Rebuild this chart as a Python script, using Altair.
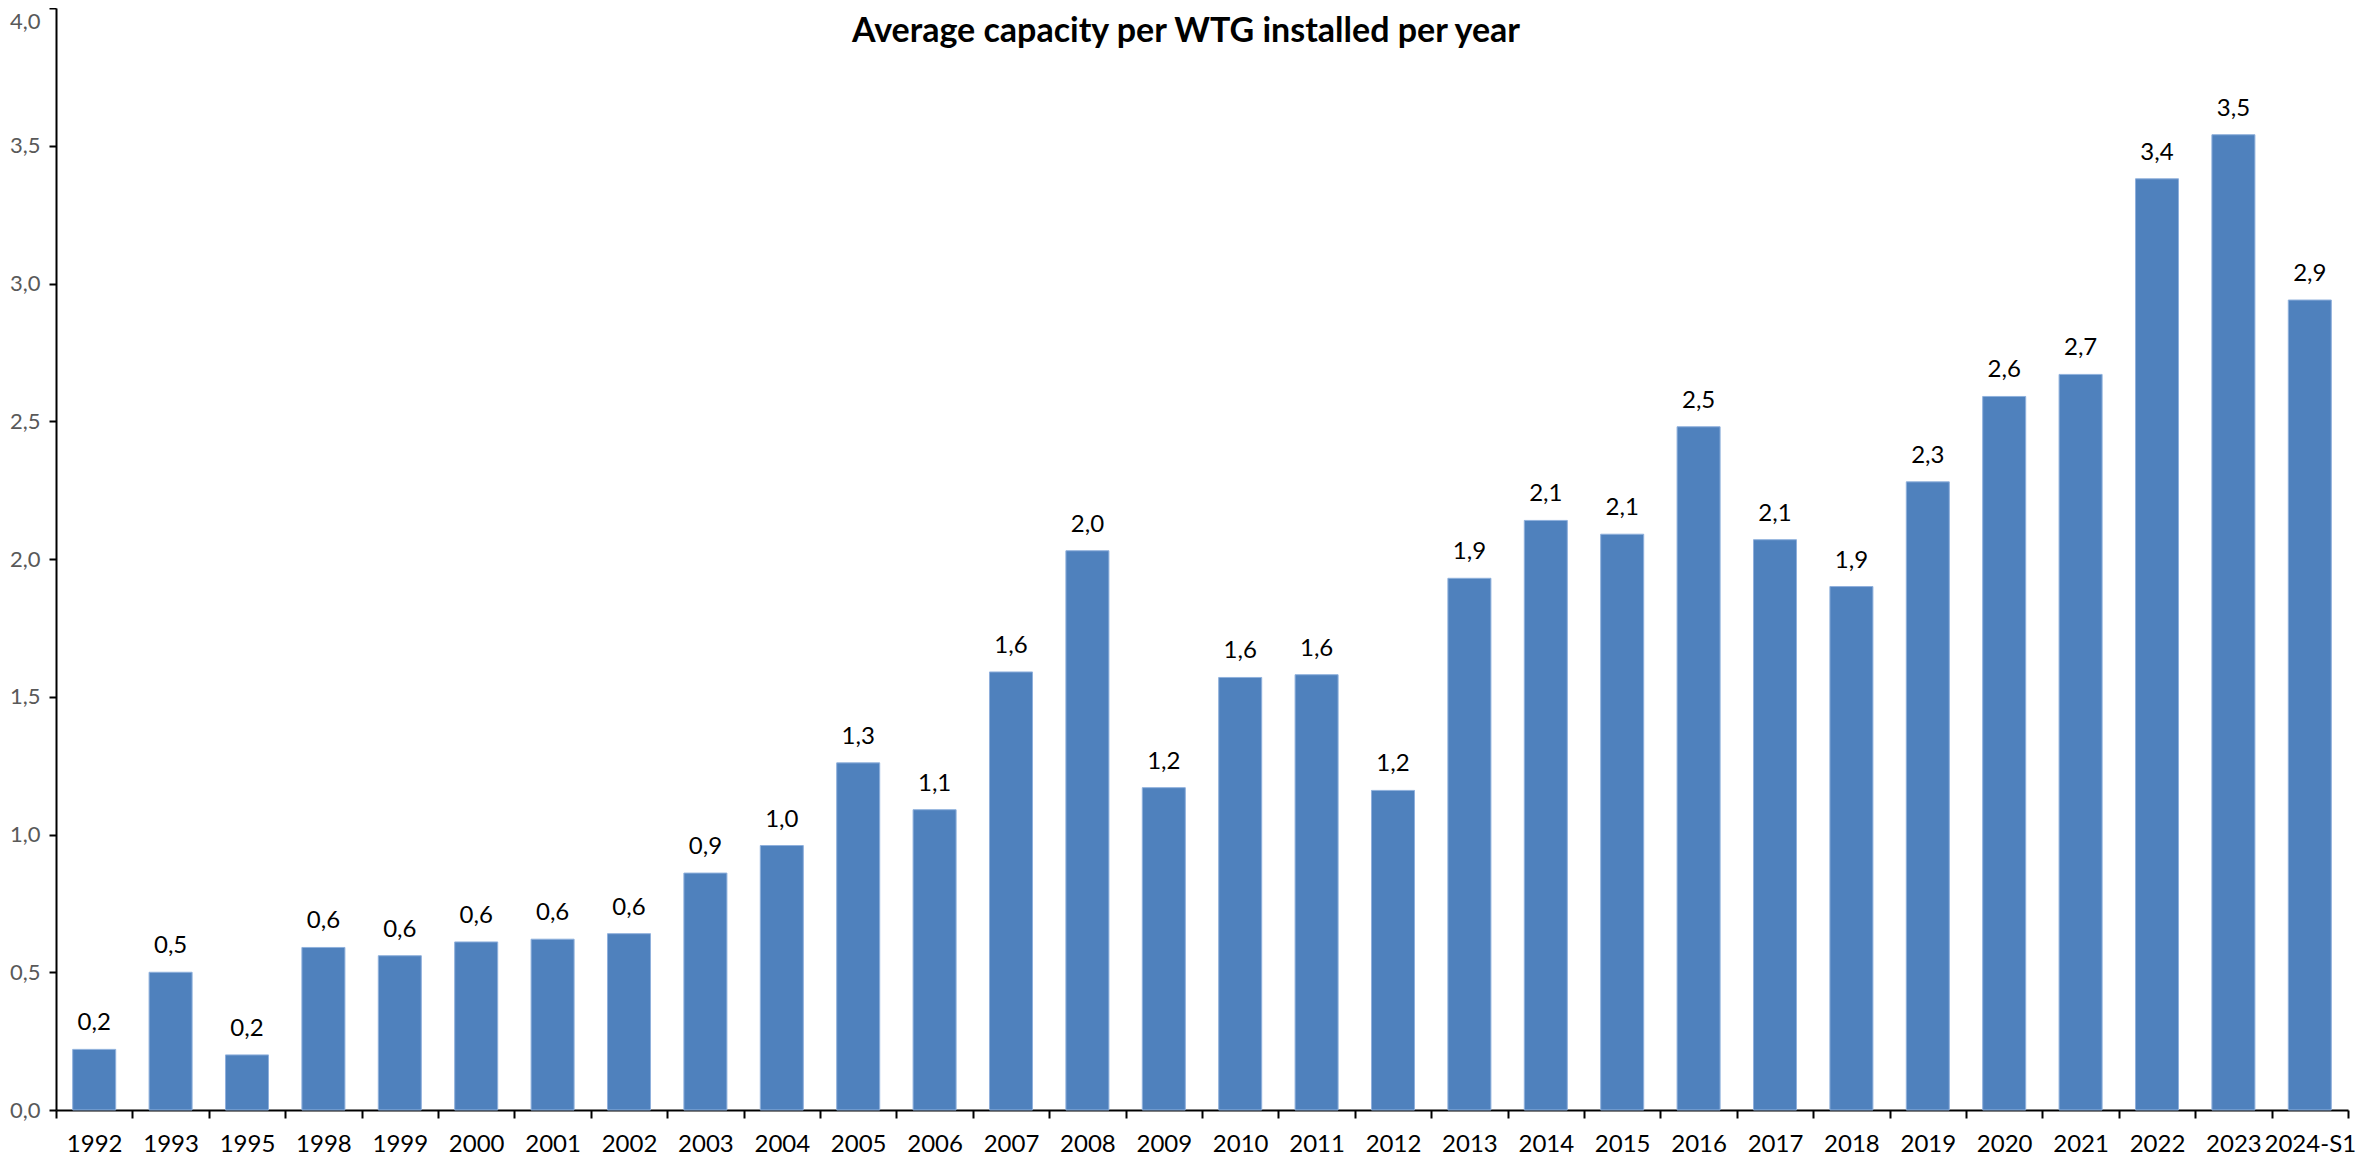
import altair as alt
import pandas as pd

categories = ["1992", "1993", "1995", "1998", "1999", "2000", "2001", "2002", "2003", "2004",
              "2005", "2006", "2007", "2008", "2009", "2010", "2011", "2012", "2013", "2014",
              "2015", "2016", "2017", "2018", "2019", "2020", "2021", "2022", "2023", "2024-S1"]
values = [0.22, 0.50, 0.20, 0.59, 0.56, 0.61, 0.62, 0.64, 0.86, 0.96,
          1.26, 1.09, 1.59, 2.03, 1.17, 1.57, 1.58, 1.16, 1.93, 2.14,
          2.09, 2.48, 2.07, 1.90, 2.28, 2.59, 2.67, 3.38, 3.54, 2.94]
y_ticks = [0.0, 0.5, 1.0, 1.5, 2.0, 2.5, 3.0, 3.5, 4.0]
title_text = "Average capacity per WTG installed per year"

df = pd.DataFrame({"category": categories, "value": values})
fmt = "replace(format(datum.value, '.1f'), '.', ',')"

x_enc = alt.X(
    "category:N", sort=categories,
    scale=alt.Scale(paddingInner=0, paddingOuter=0),
    axis=alt.Axis(title=None, labelAngle=0, labelFont="Lato", labelFontSize=24,
                  labelColor="black", labelPadding=14, tickBand="extent", tickSize=8,
                  tickWidth=2, tickColor="black", domainColor="black", domainWidth=2,
                  labelOverlap=False, grid=False),
)
y_enc = alt.Y(
    "value:Q",
    scale=alt.Scale(domain=[0, 4], nice=False),
    axis=alt.Axis(title=None, values=y_ticks, labelExpr=fmt, labelFont="Lato",
                  labelFontSize=22, labelColor="#595959", labelPadding=9, tickSize=7,
                  labelBaseline={"condition": {"test": "datum.value >= 4", "value": "top"},
                                 "value": "middle"},
                  labelOffset={"condition": {"test": "datum.value >= 4", "value": 3},
                               "value": 0},
                  tickWidth=2, tickColor="black", domainColor="black", domainWidth=2,
                  grid=False),
)

bars = alt.Chart(df).mark_bar(
    color="#4F81BD", width=alt.RelativeBandSize(0.563), stroke="#8FB0DC", strokeWidth=1
).encode(x=x_enc, y=y_enc)

labels = alt.Chart(df).transform_calculate(label=fmt).mark_text(
    font="Lato", fontSize=24, baseline="alphabetic", align="center", dy=-19, color="black"
).encode(x=x_enc, y=y_enc, text="label:N")

title = alt.Chart(pd.DataFrame({"t": [title_text]})).mark_text(
    font="Lato", fontSize=34, fontWeight="bold", align="center", baseline="alphabetic",
    color="black"
).encode(x=alt.value(1130), y=alt.value(34), text="t:N")

chart = alt.layer(bars, labels, title).properties(
    width=2292, height=1102,
    autosize=alt.AutoSizeParams(type="none"),
    padding={"left": 48, "top": 0, "right": 18, "bottom": 48},
).configure_view(stroke=None)

chart.save("out.html", embed_options={"renderer": "svg", "actions": False})
